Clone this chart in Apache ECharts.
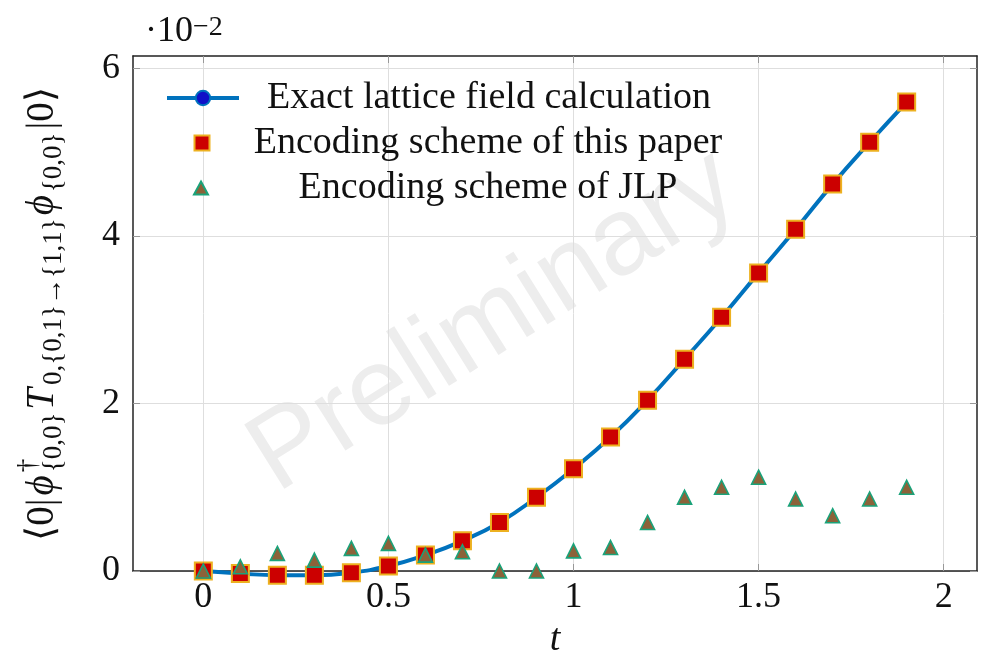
<!DOCTYPE html>
<html><head><meta charset="utf-8">
<script src="https://cdn.jsdelivr.net/npm/echarts@6/dist/echarts.min.js"></script>
<style>html,body{margin:0;padding:0;background:#fff}#c{width:992px;height:655px}</style>
</head><body><div id="c"></div>
<script>
const tValues = [0,0.1,0.2,0.3,0.4,0.5,0.6,0.7,0.8,0.9,1.0,1.1,1.2,1.3,1.4,1.5,1.6,1.7,1.8,1.9];
const exactValues = [0,-0.03,-0.05,-0.05,-0.02,0.06,0.19,0.36,0.58,0.88,1.22,1.60,2.04,2.53,3.03,3.56,4.08,4.62,5.12,5.60];
const paperValues = [0,-0.03,-0.05,-0.05,-0.02,0.06,0.19,0.36,0.58,0.88,1.22,1.60,2.04,2.53,3.03,3.56,4.08,4.62,5.12,5.60];
const jlpValues = [0,0.05,0.21,0.13,0.27,0.33,0.19,0.23,0.0,0.0,0.24,0.28,0.58,0.88,1.00,1.12,0.86,0.66,0.86,1.00];
const xTicks = [0,0.5,1,1.5,2];
const yTicks = [0,2,4,6];
const names = ['Exact lattice field calculation','Encoding scheme of this paper','Encoding scheme of JLP'];
// y-axis title pieces: [text, kind]
const yTitle = [['⟨0|','n'],['ϕ','i'],['†','sup'],['{0,0}','sub'],['T','i'],['0,{0,1}→{1,1}','sub'],['ϕ','i'],['{0,0}','sub'],['|0⟩','n']];

const pair = a => tValues.map((t,i)=>[t,a[i]]);
const serif = 'Liberation Serif';
const legendFont = 38;
const ctx = document.createElement('canvas').getContext('2d');
const tw = (s, font) => { ctx.font = font; return ctx.measureText(s).width; };
const legendCenter = 487;

// build rotated y title as a group of texts
const bigSize = 39, smallSize = 27;
const fontOf = k => (k==='i' ? 'italic ' : '') + ((k==='sub'||k==='sup') ? smallSize : bigSize) + 'px "' + serif + '"';
let cursor = 0; const pieces = [];
for (let j=0;j<yTitle.length;j++){
  const [s,k] = yTitle[j];
  const w = tw(s, fontOf(k));
  let dy = 0;
  if (k==='sub') dy = 11; else if (k==='sup') dy = -14;
  pieces.push({x:cursor, dy, s, k});
  if (k==='sup' && yTitle[j+1] && yTitle[j+1][1]==='sub') { continue; } // stack sup over next sub
  cursor += w + 3;
}
cursor -= 3;
const titleW = cursor;
const titleChildren = pieces.map(p=>({type:'text', x:p.x - titleW/2, y:p.dy, silent:true,
  style:{text:p.s, fontFamily:serif, fontStyle:p.k==='i'?'italic':'normal',
    fontSize:(p.k==='sub'||p.k==='sup')?smallSize:bigSize, fill:'#111', align:'left', verticalAlign:'middle'}}));

const chart = echarts.init(document.getElementById('c'));
const gridLine = {show:true, lineStyle:{color:'#dedede', width:1}};
const xBase = {type:'value', min:-0.19, max:2.09,
  axisLine:{show:true, onZero:false, lineStyle:{color:'#222', width:1.5}},
  axisTick:{show:true, inside:true, length:7, customValues:xTicks, lineStyle:{color:'#999'}},
};
const yBase = {type:'value', min:0, max:6.15,
  axisLine:{show:true, onZero:false, lineStyle:{color:'#222', width:1.5}},
  axisTick:{show:true, inside:true, length:7, customValues:yTicks, lineStyle:{color:'#999'}},
};
const legendRows = [
  {y:98, left:165, w:72, h:18},
  {y:143, left:193.5, w:15, h:15},
  {y:188, left:193, w:14, h:13}
];
const legends = names.map((n,i)=>{
  const r = legendRows[i];
  const pad = legendCenter - tw(n, legendFont + 'px "' + serif + '"')/2 - (r.left + r.w + 5);
  return {orient:'vertical', left:r.left, top:r.y - legendFont*0.5, padding:0,
    itemWidth:r.w, itemHeight:r.h, data:[n], selectedMode:false,
    lineStyle: i===0 ? {width:4} : undefined,
    textStyle:{fontFamily:serif, fontSize:legendFont, color:'#111', padding:[0,0,0,pad]}};
});
chart.setOption({
  animation:false,
  grid:{left:133, right:15, top:56, bottom:84, containLabel:false, outerBoundsMode:'none'},
  xAxis:[
    Object.assign({}, xBase, {position:'bottom',
      name:'t', nameLocation:'middle', nameGap:50,
      nameTextStyle:{fontFamily:serif, fontStyle:'italic', fontSize:38, color:'#111'},
      axisLabel:{customValues:xTicks, fontFamily:serif, fontSize:36, color:'#111', margin:9, formatter:v=>String(v)},
      splitLine:gridLine}),
    Object.assign({}, xBase, {position:'top', axisLabel:{show:false}, splitLine:{show:false}})
  ],
  yAxis:[
    Object.assign({}, yBase, {position:'left',
      axisLabel:{customValues:yTicks, fontFamily:serif, fontSize:36, color:'#111', margin:13},
      splitLine:gridLine}),
    Object.assign({}, yBase, {position:'right', axisLabel:{show:false}, splitLine:{show:false}})
  ],
  legend: legends,
  graphic:[
    {type:'group', x:43, y:314, rotation:Math.PI/2, children:titleChildren},
    {type:'text', left:145, top:4, silent:true,
      style:{text:'{a|·10}{b|−2}', rich:{
        a:{fontFamily:serif, fontSize:36, fill:'#111', lineHeight:36, verticalAlign:'bottom', padding:[10,0,0,0]},
        b:{fontFamily:serif, fontSize:28, fill:'#111', lineHeight:28, verticalAlign:'top'}
      }}},
    {type:'text', x:494, y:322, rotation:32*Math.PI/180, z:-10, silent:true,
      style:{text:'Preliminary', fontFamily:'Liberation Sans', fontSize:110, fill:'#ededed', align:'center', verticalAlign:'middle'}}
  ],
  series:[
    {name:names[0], type:'line', data:pair(exactValues), smooth:true, clip:false,
      symbol:'circle', symbolSize:13, z:2,
      lineStyle:{color:'#0072BD', width:4},
      itemStyle:{color:'#1010c8', borderColor:'#0072BD', borderWidth:3}},
    {name:names[1], type:'scatter', data:pair(paperValues), clip:false,
      symbol:'rect', symbolSize:17, z:4,
      itemStyle:{color:'#cc0000', borderColor:'#EDB120', borderWidth:2, opacity:1}},
    {name:names[2], type:'scatter', data:pair(jlpValues), clip:false,
      symbol:'triangle', symbolSize:14, z:5,
      itemStyle:{color:'#8c6239', borderColor:'#1aa37a', borderWidth:1.6, opacity:1}}
  ]
});
</script></body></html>
